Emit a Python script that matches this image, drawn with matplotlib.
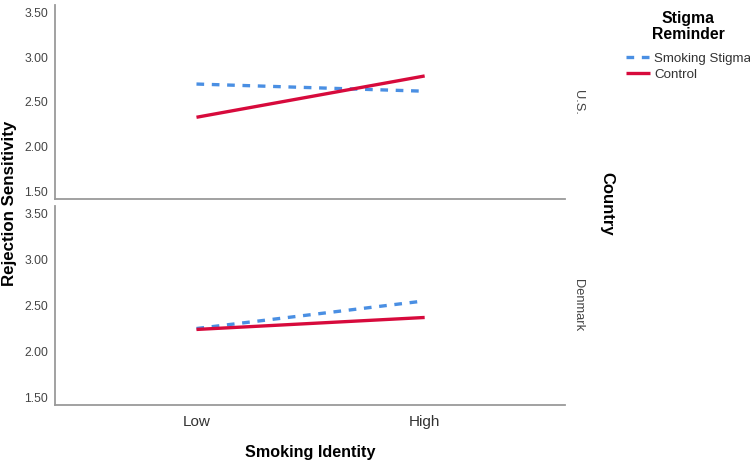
import matplotlib
matplotlib.use("Agg")
import matplotlib.pyplot as plt
from matplotlib.lines import Line2D

plt.rcParams['font.family'] = ['Liberation Sans', 'DejaVu Sans']

categories = ["Low", "High"]
countries = ["U.S.", "Denmark"]
stigma = {"U.S.": [2.70, 2.62], "Denmark": [2.25, 2.55]}
control = {"U.S.": [2.33, 2.79], "Denmark": [2.24, 2.37]}
yticks = [1.50, 2.00, 2.50, 3.00, 3.50]

blue = "#4a8fe3"
red = "#d70a3c"
grey = "#9a9a9a"
dash = (0, (2.3, 2.3))

fig = plt.figure(figsize=(7.5, 4.62), dpi=100)
W, H = 750, 462
panels = [(5, 199), (206, 405)]
axes = []
for (top, bot), c in zip(panels, countries):
    ax = fig.add_axes([55 / W, 1 - bot / H, (565 - 55) / W, (bot - top) / H])
    x = range(len(categories))
    ax.plot(x, stigma[c], color=blue, lw=2.4, ls=dash, solid_capstyle="butt", dash_capstyle="butt", zorder=3)
    ax.plot(x, control[c], color=red, lw=2.4, solid_capstyle="butt", zorder=4)
    ax.set_xlim(-0.62, 1.615)
    ax.set_ylim(1.42, 3.58)
    ax.set_yticks(yticks)
    ax.set_yticklabels([f"{v:.2f}" for v in yticks], fontsize=8.7, color="#444444")
    ax.tick_params(axis="y", length=0, pad=5)
    for s in ["top", "right"]:
        ax.spines[s].set_visible(False)
    for s in ["left", "bottom"]:
        ax.spines[s].set_color(grey)
        ax.spines[s].set_linewidth(1.3)
    ax.text(1.025, 0.5, c, transform=ax.transAxes, rotation=-90, ha="center", va="center", fontsize=9.3, color="#444444")
    axes.append(ax)

axes[0].set_xticks([])
axes[1].set_xticks(range(len(categories)))
axes[1].set_xticklabels(categories, fontsize=11, color="#333333")
axes[1].tick_params(axis="x", length=0, pad=7)

fig.text(10 / W, 1 - 203 / H, "Rejection Sensitivity", rotation=90, ha="center", va="center", fontsize=12.2, fontweight="bold")
fig.text(310 / W, 1 - 452 / H, "Smoking Identity", ha="center", va="center", fontsize=11.6, fontweight="bold")
fig.text(607 / W, 1 - 204 / H, "Country", rotation=-90, ha="center", va="center", fontsize=12, fontweight="bold")

fig.text(688 / W, 1 - 26.5 / H, "Stigma\nReminder", ha="center", va="center", fontsize=11.3, fontweight="bold", linespacing=1.1)
handles = [Line2D([0], [0], color=blue, lw=2.4, ls=dash, dash_capstyle="butt"),
           Line2D([0], [0], color=red, lw=2.4, solid_capstyle="butt")]
leg = fig.legend(handles, ["Smoking Stigma", "Control"], loc="upper left",
                 bbox_to_anchor=(626 / W, 1 - 52.5 / H), frameon=False, fontsize=9.6,
                 handlelength=1.8, handletextpad=0.3, labelspacing=0.25, borderpad=0, borderaxespad=0)
for t in leg.get_texts():
    t.set_color("#333333")

fig.savefig("out.png", dpi=100)
